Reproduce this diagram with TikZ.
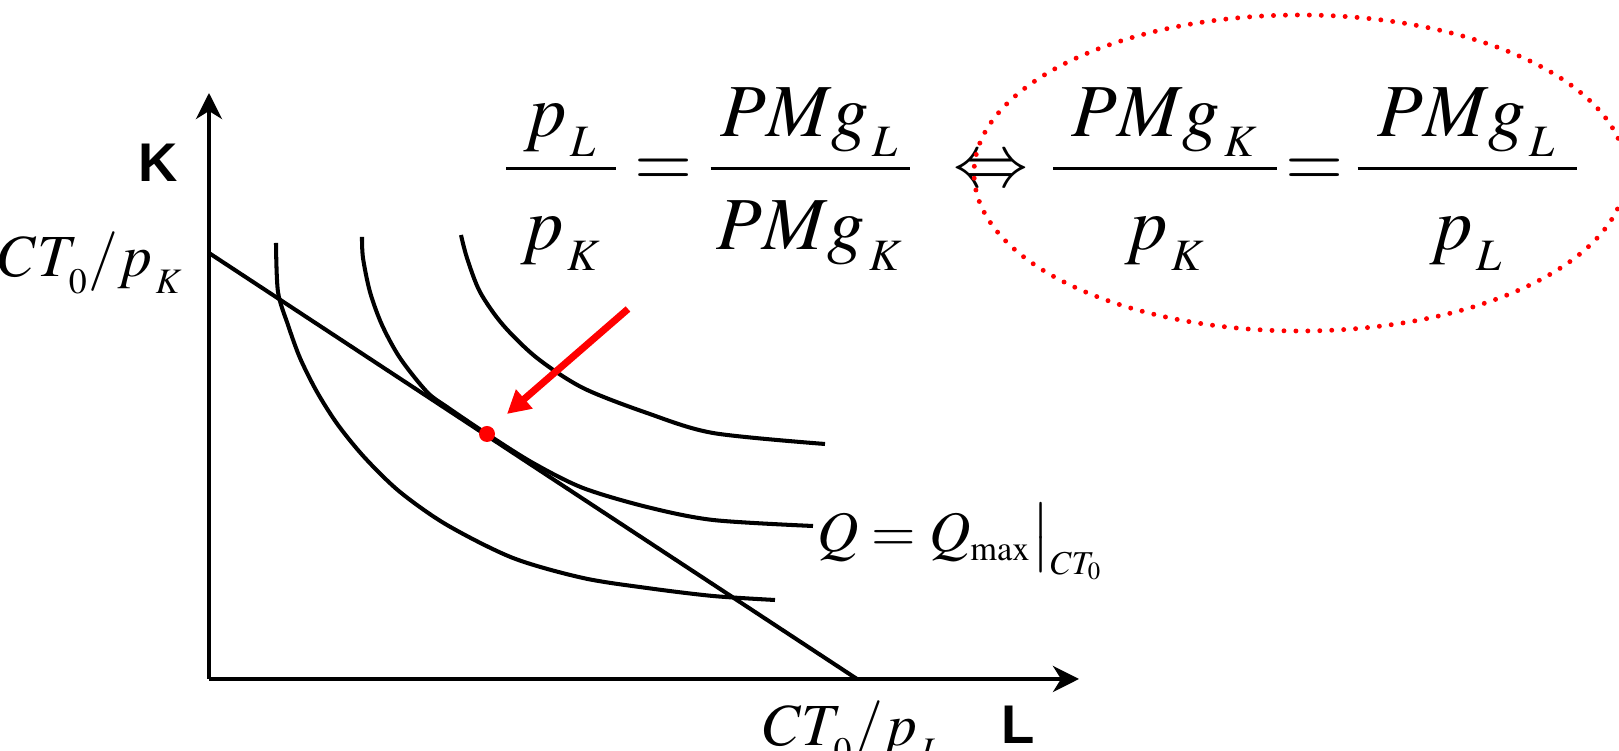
\documentclass[tikz,border=0pt]{standalone}
\usepackage{mathptmx}
\usepackage[no-math]{fontspec}
\newfontfamily\axisfont{Liberation Sans}
\usetikzlibrary{arrows.meta}

\newcommand{\ssub}[1]{_{\kern0.05em\raisebox{-0.12em}{$\scriptscriptstyle #1$}}}
\newcommand{\wfrac}[3]{\frac{\makebox[#1]{$#2$}}{\makebox[#1]{\rule{0pt}{0.95em}$#3$}}}

\begin{document}
\begin{tikzpicture}[
    axis/.style={-{Stealth[length=2.6mm,width=2.6mm,inset=0.8mm]},line width=1.15pt},
    isoq/.style={line width=1.15pt,smooth,tension=0.5},
    eqn/.style={anchor=base,inner sep=0pt,font=\fontsize{21.3}{26}\selectfont},
    lbl/.style={inner sep=0pt,font=\fontsize{17}{20}\selectfont},
    axlbl/.style={font=\axisfont\bfseries\fontsize{15.5}{18}\selectfont},
]
    \useasboundingbox (-2.09,-0.72) rectangle (14.10,6.79);
    \clip (-2.09,-0.72) rectangle (14.10,6.79);

    % axes
    \coordinate (O) at (0,0);
    \coordinate (Ktop) at (0,5.86);
    \coordinate (Lend) at (8.70,0);
    \draw[axis] (O) -- (Ktop);
    \draw[axis] (O) -- (Lend);
    \node[axlbl] (K) at (-0.51,5.16) {K};
    \node[axlbl] (L) at (8.09,-0.46) {L};

    % isocost line
    \coordinate (Kint) at (0,4.26);
    \coordinate (Lint) at (6.48,0);
    \draw[line width=1.15pt] (Kint) -- (Lint);
    \node[lbl,anchor=base east] (kmax) at (-0.25,4.02) {$CT\ssub{0}/p\ssub{K}$};
    \node[lbl,anchor=base] (lmax) at (6.44,-0.67) {$CT\ssub{0}/p\ssub{L}$};

    % isoquants
    \draw[isoq] plot coordinates {(0.67,4.36) (0.69,3.87) (0.79,3.54) (0.91,3.21)
        (1.08,2.87) (1.29,2.54) (1.56,2.21) (1.91,1.87) (2.38,1.54) (3.04,1.21)
        (3.74,1.01) (4.38,0.91) (5.04,0.83) (5.66,0.79)};
    \draw[isoq] plot coordinates {(1.53,4.42) (1.54,4.21) (1.61,3.87) (1.73,3.54)
        (1.91,3.21) (2.18,2.87) (2.38,2.72) (2.78,2.45) (3.24,2.16) (3.74,1.91)
        (4.38,1.72) (5.04,1.59) (6.04,1.53)};
    \draw[isoq] plot coordinates {(2.52,4.44) (2.58,4.21) (2.71,3.87) (2.94,3.54)
        (3.28,3.21) (3.74,2.91) (4.38,2.66) (5.04,2.46) (6.16,2.35)};
    \node[font=\fontsize{16.3}{19}\selectfont,anchor=base west,inner sep=0pt] (qmax)
        at (6.08,1.27) {$Q = Q_{\scriptscriptstyle\max}\bigr|_{\mbox{\fontsize{9.5}{11}\selectfont$CT_0$}}$};

    % optimum
    \coordinate (opt) at (2.78,2.45);
    \fill[red] (opt) circle (0.08);
    \coordinate (from) at (4.19,3.70);
    \coordinate (to) at (2.98,2.65);
    \draw[red,line width=2pt,-{Triangle[length=2.3mm,width=2.4mm]}] (from) -- (to);

    % tangency condition
    \node[eqn] (r1) at (3.52,4.92) {$\displaystyle\wfrac{1.10cm}{p\ssub{L}}{p\ssub{K}}$};
    \node[eqn] (e1) at (4.55,4.92) {$=$};
    \node[eqn] (r2) at (6.01,4.92) {$\displaystyle\wfrac{1.99cm}{PMg\ssub{L}}{PMg\ssub{K}}$};
    \node[eqn] (iff) at (7.82,4.92) {$\Leftrightarrow$};
    \node[eqn] (r3) at (9.56,4.92) {$\displaystyle\wfrac{2.24cm}{PMg\ssub{K}}{p\ssub{K}}$};
    \node[eqn] (e2) at (11.06,4.92) {$=$};
    \node[eqn] (r4) at (12.58,4.92) {$\displaystyle\wfrac{2.19cm}{PMg\ssub{L}}{p\ssub{L}}$};
    \draw[red,line width=1.4pt,line cap=round,dash pattern=on 0pt off 3.4pt]
        (10.91,5.06) ellipse (3.26 and 1.58);
\end{tikzpicture}
\end{document}
